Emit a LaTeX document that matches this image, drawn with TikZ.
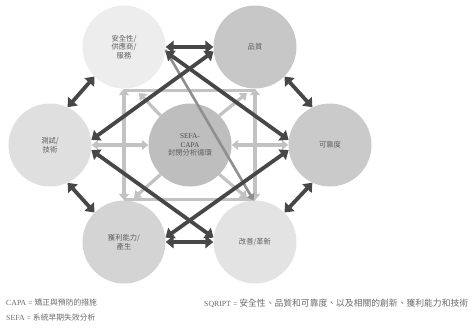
\documentclass[tikz,border=0pt]{standalone}
\usepackage{fontspec}
\setmainfont{Liberation Serif}
\newfontfamily\cjk{Noto Sans CJK TC}
\usetikzlibrary{arrows.meta}
\definecolor{darkarr}{HTML}{474747}
\definecolor{lightarr}{HTML}{C2C2C2}
\definecolor{midarr}{HTML}{8F8F8F}
\definecolor{labelgray}{HTML}{5E5E5E}
\definecolor{legendgray}{HTML}{6A6A6A}
\definecolor{ctl}{HTML}{EDEDED}
\definecolor{ctr}{HTML}{C7C7C7}
\definecolor{cl}{HTML}{DFDFDF}
\definecolor{cc}{HTML}{BEBEBE}
\definecolor{cr}{HTML}{CACACA}
\definecolor{cbl}{HTML}{D4D4D4}
\definecolor{cbr}{HTML}{E3E3E3}
\begin{document}
\begin{tikzpicture}[x=1pt,y=-1pt,
  bub/.style={circle,minimum size=83pt,inner sep=0pt,align=center,
    font=\cjk\fontsize{7.3}{8.6}\selectfont,text=labelgray},
  darr/.style={line width=3.8pt,draw=darkarr,
    {Triangle[length=8pt,width=12.5pt]}-{Triangle[length=8pt,width=12.5pt]}},
  larr/.style={line width=3.2pt,draw=lightarr,
    {Triangle[length=6.5pt,width=10pt]}-{Triangle[length=6.5pt,width=10pt]}},
  larrone/.style={line width=3.2pt,draw=lightarr,-{Triangle[length=6.5pt,width=10pt]}},
  lline/.style={line width=3.2pt,draw=lightarr},
  marr/.style={line width=2.6pt,draw=midarr,-{Triangle[length=6pt,width=8.5pt]}},
  legend/.style={anchor=west,inner sep=0pt,text=legendgray,font=\fontsize{7.8}{9}\selectfont}
]
\useasboundingbox (0,0) rectangle (476,327);

% circles
\node[bub,fill=ctl] (tl) at (124,47) {安全性/\\供應商/\\服務};
\node[bub,fill=ctr] (tr) at (255,47) {品質};
\node[bub,fill=cl]  (l)  at (50,145) {測試/\\技術};
\node[bub,fill=cc]  (c)  at (190,145) {\fontspec{Liberation Serif}\color{labelgray!80!black}SEFA-\\\fontspec{Liberation Serif}\color{labelgray!80!black}CAPA\\封閉分析循環};
\node[bub,fill=cr]  (r)  at (330,145) {可靠度};
\node[bub,fill=cbl] (bl) at (124,242) {獲利能力/\\產生};
\node[bub,fill=cbr] (br) at (255,242) {改善/革新};

% light connectors
\coordinate (k1) at (139,93);
\coordinate (k2) at (247,93);
\coordinate (k3) at (134,198);
\coordinate (k4) at (247,198);
\draw[lline] ([yshift=-2pt]tl.south) -- ([yshift=-2pt]tr.south);
\draw[lline] ([yshift=1pt]bl.north) -- ([yshift=1pt]br.north);
\draw[larr] (tl.south) -- (bl.north);
\draw[larr] (tr.south) -- (br.north);
\draw[larr] (c.west) -- (l.east);
\draw[larr] (c.east) -- (r.west);
\draw[larrone] (c.135) -- (k1);
\draw[larrone] (c.45) -- (k2);
\draw[larrone] (c.225) -- (k3);
\draw[larrone] (c.-45) -- (k4);

% medium diagonal
\draw[marr] (tl.-4) -- (br.92);

% dark connectors
\draw[darr] (tl.east) -- (tr.west);
\draw[darr] (tr.-45) -- (r.115);
\draw[darr] (r.-115) -- (br.45);
\draw[darr] (br.west) -- (bl.east);
\draw[darr] (bl.135) -- (l.-65);
\draw[darr] (l.65) -- (tl.-135);
\draw[darr] (tl.-6) -- (r.173);
\draw[darr] (tr.186) -- (l.7);
\draw[darr] (l.-7) -- (br.174);
\draw[darr] (r.-173) -- (bl.6);

% legend
\node[legend] (lg1) at (6,303) {CAPA = {\cjk 矯正與預防的措施}};
\node[legend] (lg2) at (6,318) {SEFA = {\cjk 系統早期失效分析}};
\node[legend] (lg3) at (204,303) {SQRIPT = {\cjk\fontsize{8.8}{9}\selectfont 安全性、品質和可靠度、以及相關的創新、獲利能力和技術}};
\end{tikzpicture}
\end{document}
